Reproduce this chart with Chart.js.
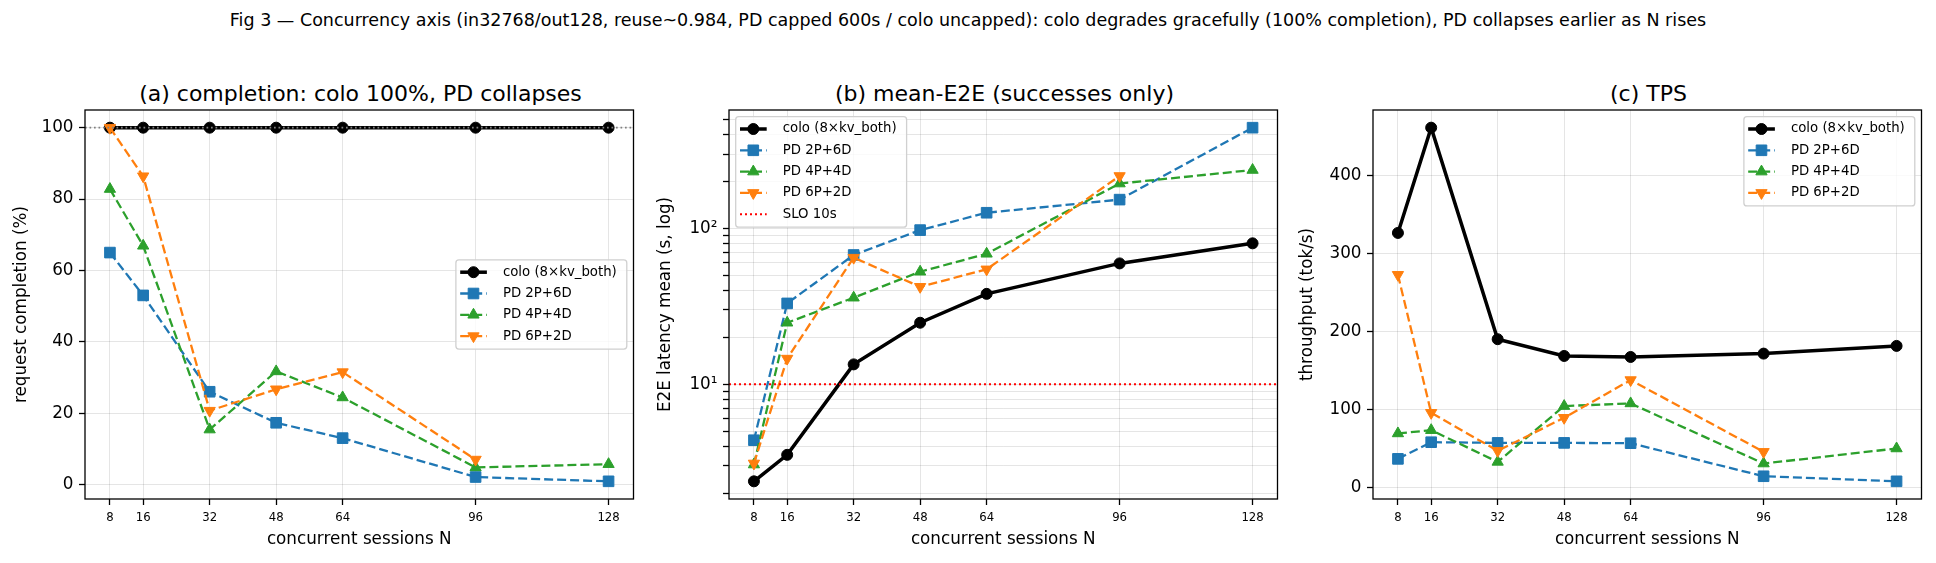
<!DOCTYPE html>
<html>
<head>
<meta charset="utf-8">
<script src="https://cdn.jsdelivr.net/npm/chart.js@4.4.1/dist/chart.umd.min.js"></script>
<style>
  body { margin: 0; background: #fff; width: 1936px; height: 563px; position: relative; overflow: hidden; font-family: 'DejaVu Sans', sans-serif; }
  canvas { position: absolute; top: 0; }
  .ttl { position: absolute; text-align: center; white-space: nowrap; color: #000; }
</style>
</head>
<body>
<div class="ttl" style="left:0; width:1936px; top:12px; font-size:17.5px; line-height:17.5px">Fig 3 — Concurrency axis (in32768/out128, reuse~0.984, PD capped 600s / colo uncapped): colo degrades gracefully (100% completion), PD collapses earlier as N rises</div>
<div class="ttl" style="left:85px; width:551px; top:83px; font-size:22px; line-height:22px">(a) completion: colo 100%, PD collapses</div>
<div class="ttl" style="left:729px; width:551px; top:83px; font-size:22px; line-height:22px">(b) mean-E2E (successes only)</div>
<div class="ttl" style="left:1373px; width:551px; top:83px; font-size:22px; line-height:22px">(c) TPS</div>
<canvas id="chartA" width="642" height="563" style="left:0px"></canvas>
<canvas id="chartB" width="642" height="563" style="left:644px"></canvas>
<canvas id="chartC" width="642" height="563" style="left:1288px"></canvas>
<script>
// concurrency levels on the x axis
const sessions = [8, 16, 32, 48, 64, 96, 128];
const seriesNames = ['colo (8×kv_both)', 'PD 2P+6D', 'PD 4P+4D', 'PD 6P+2D'];

// (a) request completion, %
const completionColo = [100, 100, 100, 100, 100, 100, 100];
const completion2P6D = [65.0, 53.0, 26.0, 17.3, 13.0, 2.1, 0.9];
const completion4P4D = [82.8, 66.9, 15.4, 31.7, 24.4, 4.8, 5.7];
const completion6P2D = [100, 86.4, 20.7, 26.7, 31.5, 7.0, null];
const completionRef = 100;
const completionTicks = [0, 20, 40, 60, 80, 100];

// (b) mean E2E latency, s (log)
const latencyColo = [2.38, 3.52, 13.4, 24.8, 38.0, 59.6, 80.2];
const latency2P6D = [4.37, 33.0, 67.5, 97.5, 126, 153, 443];
const latency4P4D = [3.05, 24.8, 35.9, 52.7, 68.7, 194, 237];
const latency6P2D = [3.1, 14.6, 64.9, 42.2, 54.6, 217, null];
const sloSeconds = 10;
const latencyDecades = [1, 10, 100];

// (c) throughput, tok/s
const tpsColo = [326.7, 461.7, 190.4, 168.9, 167.6, 171.9, 181.8];
const tps2P6D = [36.9, 58.3, 57.4, 57.4, 57.0, 14.6, 8.1];
const tps4P4D = [69.5, 73.7, 33.0, 104.6, 108.0, 30.9, 50.2];
const tps6P2D = [273, 96.0, 47.2, 89.6, 138.0, 45.9, null];
const tpsTicks = [0, 100, 200, 300, 400];

Chart.defaults.font.family = "'DejaVu Sans', sans-serif";
Chart.defaults.color = '#000';

const gridColor = 'rgba(0,0,0,0.1)';
const styles = [
  {color: '#000000', dash: [], width: 3.5, point: 'circle', radius: 5.5, rotation: 0},
  {color: '#1f77b4', dash: [9, 4], width: 2.3, point: 'rect', radius: 7.5, rotation: 0},
  {color: '#2ca02c', dash: [9, 4], width: 2.3, point: 'triangle', radius: 6.5, rotation: 0},
  {color: '#ff7f0e', dash: [9, 4], width: 2.3, point: 'triangle', radius: 6.5, rotation: 180}
];

const xMin = sessions[0] - 0.05 * (sessions[sessions.length - 1] - sessions[0]);
const xMax = sessions[sessions.length - 1] + 0.05 * (sessions[sessions.length - 1] - sessions[0]);

function padRange(lists) {
  const all = lists.flat().filter(v => v !== null);
  const lo = Math.min(...all), hi = Math.max(...all);
  return [lo - 0.05 * (hi - lo), hi + 0.05 * (hi - lo)];
}

function padLogRange(lists) {
  const all = lists.flat().filter(v => v !== null).map(Math.log10);
  const lo = Math.min(...all), hi = Math.max(...all);
  return [Math.pow(10, lo - 0.05 * (hi - lo)), Math.pow(10, hi + 0.05 * (hi - lo))];
}

function makeSeries(lists) {
  return lists.map((vals, i) => {
    const st = styles[i];
    return {
      label: seriesNames[i],
      inLegend: true,
      data: sessions.map((x, j) => ({x: x, y: vals[j]})).filter(p => p.y !== null),
      borderColor: st.color,
      backgroundColor: st.color,
      pointBackgroundColor: st.color,
      pointBorderColor: st.color,
      borderWidth: st.width,
      borderDash: st.dash,
      pointStyle: st.point,
      pointRadius: st.radius,
      pointRotation: st.rotation,
      pointBorderWidth: 1,
      tension: 0,
      order: 4 - i
    };
  });
}

function hLine(y, color, dash, width, label) {
  return {
    label: label,
    inLegend: !!label,
    data: [{x: xMin, y: y}, {x: xMax, y: y}],
    borderColor: color,
    borderDash: dash,
    borderWidth: width,
    pointRadius: 0,
    order: 0
  };
}

// axes box on all four sides
const spines = {
  id: 'spines',
  afterDatasetsDraw(chart) {
    const {ctx, chartArea: a} = chart;
    ctx.save();
    ctx.strokeStyle = '#000';
    ctx.lineWidth = 1.3;
    ctx.strokeRect(a.left, a.top, a.right - a.left, a.bottom - a.top);
    ctx.restore();
  }
};

// matplotlib-like boxed legend drawn inside the axes
const mplLegend = {
  id: 'mplLegend',
  afterDraw(chart, args, opts) {
    if (!opts.loc) return;
    const ctx = chart.ctx, area = chart.chartArea;
    const items = chart.data.datasets.filter(d => d.inLegend);
    const fs = 13.3, pitch = 21.3;
    ctx.save();
    ctx.font = fs + "px 'DejaVu Sans'";
    const textW = Math.max(...items.map(d => ctx.measureText(d.label).width));
    const w = 47 + textW + 10, h = items.length * pitch + 4;
    const x = opts.loc.includes('left') ? area.left + 6.7 : area.right - 6.7 - w;
    const y = opts.loc.includes('upper') ? area.top + 6.7 : (area.top + area.bottom - h) / 2;
    ctx.beginPath();
    if (ctx.roundRect) ctx.roundRect(x, y, w, h, 3); else ctx.rect(x, y, w, h);
    ctx.fillStyle = 'rgba(255,255,255,0.8)';
    ctx.fill();
    ctx.strokeStyle = '#d0d0d0';
    ctx.lineWidth = 1.3;
    ctx.stroke();
    items.forEach((d, i) => {
      const cy = y + 12.3 + i * pitch;
      ctx.strokeStyle = d.borderColor;
      ctx.lineWidth = d.borderWidth;
      ctx.setLineDash(d.borderDash || []);
      ctx.beginPath();
      ctx.moveTo(x + 4.3, cy);
      ctx.lineTo(x + 31, cy);
      ctx.stroke();
      ctx.setLineDash([]);
      if (d.pointRadius > 0) {
        ctx.fillStyle = d.pointBackgroundColor;
        ctx.strokeStyle = d.pointBorderColor;
        ctx.lineWidth = 1;
        Chart.helpers.drawPoint(ctx, {pointStyle: d.pointStyle, rotation: d.pointRotation || 0, radius: d.pointRadius, borderWidth: 1}, x + 17.6, cy);
      }
      ctx.fillStyle = '#000';
      ctx.textBaseline = 'middle';
      ctx.textAlign = 'left';
      ctx.fillText(d.label, x + 47, cy);
    });
    ctx.restore();
  }
};

function buildChart(id, datasets, yScale, yTitle, yTitlePad, legendLoc) {
  const yAxis = Object.assign({
    afterFit: s => { s.width = 85; },
    grid: {color: gridColor, tickColor: '#000', tickLength: 6, tickWidth: 1.3},
    border: {display: false},
    title: {display: true, text: yTitle, font: {size: 16.8}, padding: {top: yTitlePad, bottom: 0}}
  }, yScale);
  return new Chart(document.getElementById(id), {
    type: 'line',
    data: {datasets: datasets},
    options: {
      responsive: false,
      animation: false,
      layout: {padding: {top: 110, right: 6, bottom: 0, left: 0}},
      plugins: {legend: {display: false}, tooltip: {enabled: false}, mplLegend: {loc: legendLoc}},
      scales: {
        x: {
          type: 'linear',
          min: xMin,
          max: xMax,
          afterBuildTicks: s => { s.ticks = sessions.map(v => ({value: v})); },
          afterFit: s => { s.height = 64; },
          ticks: {font: {size: 11.7}, padding: 6.3, autoSkip: false, maxRotation: 0, callback: v => String(v)},
          grid: {color: gridColor, tickColor: '#000', tickLength: 6, tickWidth: 1.3},
          border: {display: false},
          title: {display: true, text: 'concurrent sessions N', font: {size: 16.8}, padding: {top: 0, bottom: 12.9}}
        },
        y: yAxis
      }
    },
    plugins: [spines, mplLegend]
  });
}

// (a)
const rangeA = padRange([completionColo, completion2P6D, completion4P4D, completion6P2D]);
buildChart('chartA',
  makeSeries([completionColo, completion2P6D, completion4P4D, completion6P2D])
    .concat([hLine(completionRef, '#808080', [1.7, 2.8], 1.7, null)]),
  {
    type: 'linear', min: rangeA[0], max: rangeA[1],
    afterBuildTicks: s => { s.ticks = completionTicks.map(v => ({value: v})); },
    ticks: {font: {size: 16.8}, padding: 5.5, autoSkip: false, callback: v => String(v)}
  },
  'request completion (%)', 11.6, 'center right');

// (b)
const rangeB = padLogRange([latencyColo, latency2P6D, latency4P4D, latency6P2D]);
const supers = {1: '¹', 2: '²', 3: '³'};
const logTicks = [];
latencyDecades.forEach(d => { for (let m = 1; m <= 9; m++) logTicks.push(m * d); });
buildChart('chartB',
  makeSeries([latencyColo, latency2P6D, latency4P4D, latency6P2D])
    .concat([hLine(sloSeconds, '#ff0000', [2, 3], 2, 'SLO 10s')]),
  {
    type: 'logarithmic', min: rangeB[0], max: rangeB[1],
    afterBuildTicks: s => { s.ticks = logTicks.filter(v => v >= rangeB[0] && v <= rangeB[1]).map(v => ({value: v})); },
    ticks: {
      font: {size: 16.8}, padding: 5.5, autoSkip: false,
      callback: v => {
        const e = Math.round(Math.log10(v));
        return Math.abs(Math.pow(10, e) - v) < 1e-9 ? '10' + supers[e] : '';
      }
    }
  },
  'E2E latency mean (s, log)', 11.2, 'upper left');

// (c)
const rangeC = padRange([tpsColo, tps2P6D, tps4P4D, tps6P2D]);
buildChart('chartC',
  makeSeries([tpsColo, tps2P6D, tps4P4D, tps6P2D]),
  {
    type: 'linear', min: rangeC[0], max: rangeC[1],
    afterBuildTicks: s => { s.ticks = tpsTicks.map(v => ({value: v})); },
    ticks: {font: {size: 16.8}, padding: 5.5, autoSkip: false, callback: v => String(v)}
  },
  'throughput (tok/s)', 9.4, 'upper right');
</script>
</body>
</html>
